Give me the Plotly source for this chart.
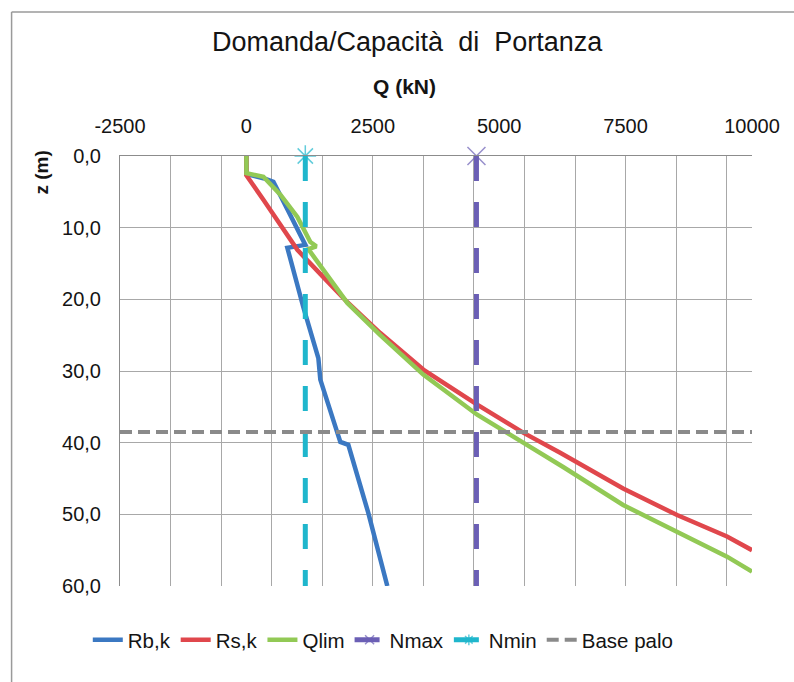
import plotly.graph_objects as go

# ---- data ----
z_rb = [0, 2.5, 3.1, 3.6, 7.3, 11.0, 12.4, 12.8, 21.1, 28.2, 31.2, 38.6, 39.9, 40.3, 49.8, 60.0]
q_rb = [0, 0, 336, 534, 800, 1067, 1166, 810, 1126, 1423, 1462, 1798, 1858, 2016, 2411, 2787]

z_rs = [0, 2.7, 6.1, 9.6, 13.1, 16.9, 20.4, 24.7, 29.8, 34.7, 38.6, 41.4, 46.4, 50.1, 53.1, 55.0]
q_rs = [0, 0, 336, 672, 1008, 1522, 1996, 2648, 3498, 4565, 5474, 6206, 7451, 8518, 9506, 10000]

z_ql = [0, 2.4, 2.9, 5.4, 8.5, 12.0, 12.6, 13.0, 20.5, 25.0, 30.5, 36.1, 40.0, 43.4, 48.7, 52.4, 55.9, 58.0]
q_ql = [0, 0, 336, 672, 1008, 1265, 1383, 1225, 1996, 2648, 3498, 4565, 5474, 6265, 7451, 8518, 9506, 10000]

n_max = 4550
n_min = 1165
z_n = [0, 60]
base_palo_z = 38.5

x_tickvals = [-2500, 0, 2500, 5000, 7500, 10000]
x_ticktext = ["-2500", "0", "2500", "5000", "7500", "10000"]
y_tickvals = [0, 10, 20, 30, 40, 50, 60]
y_ticktext = ["0,0", "10,0", "20,0", "30,0", "40,0", "50,0", "60,0"]

FONT = "Liberation Sans, Arial, sans-serif"
BLUE = "#3b78c2"
RED = "#e0474c"
GREEN = "#92c955"
PURPLE = "#6b5fb5"
CYAN = "#1fb6cc"
GRAY = "#8a8a8a"
TXT = "#141414"

fig = go.Figure()
fig.add_trace(go.Scatter(x=q_rb, y=z_rb, mode="lines", name="Rb,k",
                         line=dict(color=BLUE, width=4.5)))
fig.add_trace(go.Scatter(x=q_rs, y=z_rs, mode="lines", name="Rs,k",
                         line=dict(color=RED, width=4.5)))
fig.add_trace(go.Scatter(x=q_ql, y=z_ql, mode="lines", name="Qlim",
                         line=dict(color=GREEN, width=4.5)))
fig.add_trace(go.Scatter(x=[n_max] * len(z_n), y=z_n, mode="lines+markers", name="Nmax",
                         line=dict(color=PURPLE, width=5, dash="25px,21px"),
                         marker=dict(symbol="x-thin-open", size=[18, 0],
                                     line=dict(color=PURPLE, width=1.5)),
                         cliponaxis=False))
fig.add_trace(go.Scatter(x=[n_min] * len(z_n), y=z_n, mode="lines+markers", name="Nmin",
                         line=dict(color=CYAN, width=5, dash="25px,21px"),
                         marker=dict(symbol="asterisk-open", size=[18, 0],
                                     line=dict(color=CYAN, width=1.5)),
                         cliponaxis=False))
fig.add_trace(go.Scatter(x=[x_tickvals[0], x_tickvals[-1]], y=[base_palo_z, base_palo_z],
                         mode="lines", name="Base palo",
                         line=dict(color=GRAY, width=4, dash="12px,6px")))

L, R, T, B = 119.5, 752, 156, 586
W, H = 794, 682


def px(xp):
    return (xp - L) / (R - L)


def py(yp):
    return (B - yp) / (B - T)


fig.update_layout(
    width=W, height=H,
    margin=dict(l=L, r=W - R, t=T, b=H - B),
    paper_bgcolor="white", plot_bgcolor="white",
    font=dict(family=FONT, size=19, color=TXT),
    showlegend=True,
    legend=dict(orientation="h", x=px(383), xanchor="center", y=py(640), yanchor="middle",
                font=dict(size=20.5, family=FONT, color=TXT), itemwidth=30, tracegroupgap=0,
                bgcolor="rgba(0,0,0,0)"),
    xaxis=dict(side="top", range=[-2500, 10000], tickmode="array",
               tickvals=x_tickvals, ticktext=x_ticktext, showgrid=False,
               zeroline=False, showline=True, linecolor="#8c8c8c", linewidth=1,
               ticks="", ticklabelstandoff=14,
               tickfont=dict(size=20, family=FONT, color=TXT),
               minor=dict(tick0=-2500, dtick=1000, showgrid=True,
                          gridcolor="#a8a8a8", gridwidth=1, ticks="")),
    yaxis=dict(range=[60, 0], tickmode="array", tickvals=y_tickvals, ticktext=y_ticktext,
               showgrid=True, gridcolor="#a8a8a8", gridwidth=1, zeroline=False,
               showline=True, linecolor="#8c8c8c", linewidth=1, ticks="",
               ticklabelstandoff=14,
               tickfont=dict(size=20, family=FONT, color=TXT)),
)

fig.add_annotation(text="Domanda/Capacità  di  Portanza", xref="paper", yref="paper",
                   x=px(407), y=py(42), xanchor="center", yanchor="middle", showarrow=False,
                   font=dict(size=27, family=FONT, color=TXT))
fig.add_annotation(text="<b>Q (kN)</b>", xref="paper", yref="paper",
                   x=px(404), y=py(87), xanchor="center", yanchor="middle", showarrow=False,
                   font=dict(size=21, family=FONT, color=TXT))
fig.add_annotation(text="<b>z (m)</b>", xref="paper", yref="paper", textangle=-90,
                   x=px(40), y=py(173), xanchor="center", yanchor="middle", showarrow=False,
                   font=dict(size=19, family=FONT, color=TXT))

# chart-area border (top and left edges visible in the reference)
fig.add_shape(type="line", xref="paper", yref="paper", x0=px(11), x1=px(800),
              y0=py(12), y1=py(12), line=dict(color="#9a9a9a", width=1.5))
fig.add_shape(type="line", xref="paper", yref="paper", x0=px(11), x1=px(11),
              y0=py(12), y1=py(690), line=dict(color="#9a9a9a", width=1.5))

fig.write_html("out.html")
